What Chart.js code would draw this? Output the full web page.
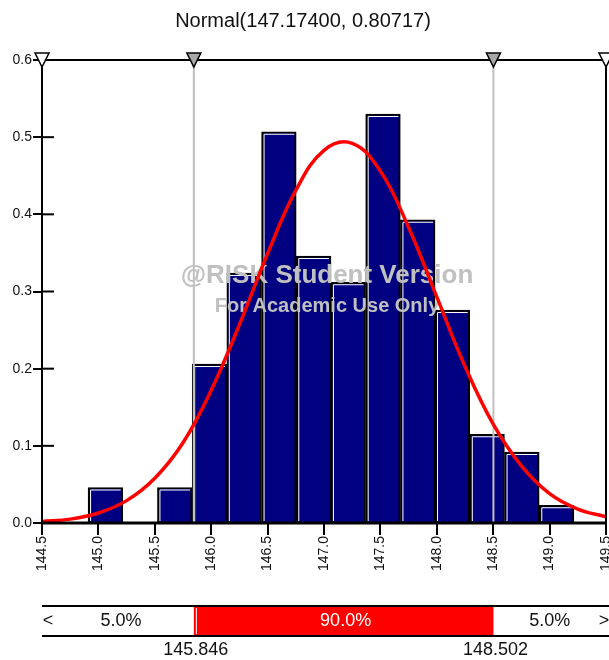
<!DOCTYPE html>
<html lang="en">
<head>
  <meta charset="UTF-8">
  <title>Normal(147.17400, 0.80717)</title>
  <script src="https://cdn.jsdelivr.net/npm/chart.js"></script>
  <style>
    html, body { margin: 0; padding: 0; background: #fff; }
    #wrap { width: 609px; height: 660px; }
  </style>
</head>
<body>
  <div id="wrap"><canvas id="histChart" width="609" height="660"></canvas></div>

  <script>
    // histogram: bin centres and densities
    const binCentres = [145.062, 145.369, 145.677, 145.985, 146.292, 146.600, 146.908,
                        147.215, 147.523, 147.831, 148.138, 148.446, 148.754, 149.062];
    const binDensity = [0.046, 0, 0.046, 0.206, 0.324, 0.507, 0.346,
                        0.312, 0.530, 0.393, 0.276, 0.115, 0.092, 0.023];

    // fitted normal curve, read every 0.25
    const curveX = [144.5, 144.75, 145.0, 145.25, 145.5, 145.75, 146.0, 146.25, 146.5, 146.75, 147.0,
                    147.25, 147.5, 147.75, 148.0, 148.25, 148.5, 148.75, 149.0, 149.25, 149.5];
    const curveY = [0.002, 0.005, 0.013, 0.029, 0.058, 0.104, 0.172, 0.257, 0.349, 0.431, 0.483,
                    0.492, 0.456, 0.383, 0.293, 0.203, 0.128, 0.074, 0.038, 0.018, 0.008];

    // delimiters and the percentages between them
    const markerValues = [145.846, 148.502];
    const markerLabels = ['145.846', '148.502'];
    const bandPercents = ['5.0%', '90.0%', '5.0%'];

    const chartTitle = 'Normal(147.17400, 0.80717)';
    const FONT = '"Liberation Sans", Arial, sans-serif';

    Chart.defaults.font.family = FONT;

    // extra drawing: bevel on bars, grey lines, watermark, frame, triangles, bottom bar
    const riskDecor = {
      id: 'riskDecor',
      afterDatasetDraw(chart, args) {
        if (args.meta.type !== 'bar') return;
        const ctx = chart.ctx;
        const area = chart.chartArea;
        const xs = chart.scales.x;
        ctx.save();

        // white inner line on left and top of each bar
        ctx.strokeStyle = '#ffffff';
        ctx.lineWidth = 1;
        args.meta.data.forEach(bar => {
          const p = bar.getProps(['x', 'y', 'base', 'width'], true);
          if (p.base - p.y < 4) return;
          const l = p.x - p.width / 2;
          const r = p.x + p.width / 2;
          ctx.beginPath();
          ctx.moveTo(l + 2.5, p.base - 1);
          ctx.lineTo(l + 2.5, p.y + 2.5);
          ctx.lineTo(r - 2, p.y + 2.5);
          ctx.stroke();
        });

        // grey percentile lines
        ctx.strokeStyle = '#c0c0c0';
        ctx.lineWidth = 2;
        markerValues.forEach(v => {
          const px = xs.getPixelForValue(v);
          ctx.beginPath();
          ctx.moveTo(px, area.top);
          ctx.lineTo(px, area.bottom);
          ctx.stroke();
        });

        // watermark
        const cx = (area.left + area.right) / 2 + 3;
        ctx.fillStyle = '#c0c0c0';
        ctx.textAlign = 'center';
        ctx.textBaseline = 'middle';
        ctx.font = 'bold 26px ' + FONT;
        ctx.fillText('@RISK Student Version', cx, 276);
        ctx.font = 'bold 20px ' + FONT;
        ctx.fillText('For Academic Use Only', cx, 306);
        ctx.restore();
      },

      afterDatasetsDraw(chart) {
        const ctx = chart.ctx;
        const area = chart.chartArea;
        const xs = chart.scales.x;
        const ys = chart.scales.y;
        ctx.save();

        // frame
        ctx.strokeStyle = '#000';
        ctx.lineWidth = 2;
        ctx.strokeRect(area.left, area.top, area.right - area.left, area.bottom - area.top);
        ctx.lineWidth = 3;
        ctx.beginPath();
        ctx.moveTo(area.left, area.bottom);
        ctx.lineTo(area.right, area.bottom);
        ctx.stroke();

        // inner part of the y ticks
        ctx.lineWidth = 2;
        ys.ticks.forEach(t => {
          const py = ys.getPixelForValue(t.value);
          ctx.beginPath();
          ctx.moveTo(area.left, py);
          ctx.lineTo(area.left + 12, py);
          ctx.stroke();
        });

        // triangles on the top edge
        const tri = [
          { v: xs.min, fill: '#ffffff' },
          { v: markerValues[0], fill: '#a8a8a8' },
          { v: markerValues[1], fill: '#a8a8a8' },
          { v: xs.max, fill: '#ffffff' }
        ];
        ctx.lineWidth = 1.5;
        tri.forEach(t => {
          const px = xs.getPixelForValue(t.v);
          ctx.beginPath();
          ctx.moveTo(px - 7, area.top - 7);
          ctx.lineTo(px + 7, area.top - 7);
          ctx.lineTo(px, area.top + 7);
          ctx.closePath();
          ctx.fillStyle = t.fill;
          ctx.fill();
          ctx.stroke();
        });
        ctx.restore();
      },

      afterDraw(chart) {
        const ctx = chart.ctx;
        const area = chart.chartArea;
        const xs = chart.scales.x;
        const m1 = xs.getPixelForValue(markerValues[0]);
        const m2 = xs.getPixelForValue(markerValues[1]);
        const top = 606, bottom = 636;
        ctx.save();

        // red middle band
        ctx.fillStyle = '#ff0000';
        ctx.fillRect(m1, top + 1, m2 - m1, bottom - top - 2);
        ctx.strokeStyle = '#ffffff';
        ctx.lineWidth = 1;
        ctx.beginPath();
        ctx.moveTo(m1 + 2.5, top + 2);
        ctx.lineTo(m1 + 2.5, bottom - 2);
        ctx.stroke();

        // lines above and below
        ctx.strokeStyle = '#000';
        ctx.lineWidth = 2;
        [top, bottom].forEach(y => {
          ctx.beginPath();
          ctx.moveTo(area.left, y);
          ctx.lineTo(area.right + 3, y);
          ctx.stroke();
        });

        ctx.font = '18px ' + FONT;
        ctx.textAlign = 'center';
        ctx.textBaseline = 'middle';
        const mid = (top + bottom) / 2;
        ctx.fillStyle = '#111';
        ctx.fillText('<', area.left + 6, mid);
        ctx.fillText('>', area.right - 2, mid);
        ctx.fillText(bandPercents[0], (area.left + m1) / 2 + 3, mid);
        ctx.fillText(bandPercents[2], (m2 + area.right) / 2, mid);
        ctx.fillStyle = '#ffffff';
        ctx.fillText(bandPercents[1], (m1 + m2) / 2 + 2, mid);

        ctx.fillStyle = '#111';
        ctx.fillText(markerLabels[0], m1 + 2, 650);
        ctx.fillText(markerLabels[1], m2 + 2, 650);
        ctx.restore();
      }
    };

    const ctx = document.getElementById('histChart').getContext('2d');
    new Chart(ctx, {
      type: 'bar',
      data: {
        datasets: [
          {
            type: 'line',
            data: curveX.map((x, i) => ({ x: x, y: curveY[i] })),
            borderColor: '#ff0000',
            borderWidth: 3.5,
            pointRadius: 0,
            tension: 0.4,
            order: 0
          },
          {
            type: 'bar',
            data: binCentres.map((x, i) => ({ x: x, y: binDensity[i] })),
            backgroundColor: '#000080',
            borderColor: '#000000',
            borderWidth: 2,
            barPercentage: 1,
            categoryPercentage: 1,
            order: 1
          }
        ]
      },
      options: {
        responsive: false,
        animation: false,
        devicePixelRatio: 1,
        layout: { padding: { left: 0, right: 3, top: 0, bottom: 0 } },
        plugins: {
          legend: { display: false },
          tooltip: { enabled: false },
          title: {
            display: true,
            text: chartTitle,
            color: '#111',
            font: { size: 20, weight: 'normal' },
            padding: { top: 9, bottom: 27 }
          }
        },
        scales: {
          x: {
            type: 'linear',
            min: 144.5,
            max: 149.5,
            offset: false,
            ticks: {
              stepSize: 0.5,
              autoSkip: false,
              minRotation: 90,
              maxRotation: 90,
              padding: 1,
              color: '#111',
              font: { size: 14 },
              callback: v => Number(v).toFixed(1)
            },
            grid: { offset: false, drawOnChartArea: false, drawTicks: true, tickLength: 12, lineWidth: 2, color: '#000' },
            border: { display: false },
            afterFit: s => { s.height = 137; s.paddingLeft = 0; s.paddingRight = 0; }
          },
          y: {
            min: 0,
            max: 0.6,
            ticks: {
              stepSize: 0.1,
              padding: 1,
              color: '#111',
              font: { size: 14 },
              callback: v => Number(v).toFixed(1)
            },
            grid: { drawOnChartArea: false, drawTicks: true, tickLength: 9, lineWidth: 2, color: '#000' },
            border: { display: false },
            afterFit: s => { s.width = 42; s.paddingTop = 0; s.paddingBottom = 0; }
          }
        }
      },
      plugins: [riskDecor]
    });
  </script>
</body>
</html>
